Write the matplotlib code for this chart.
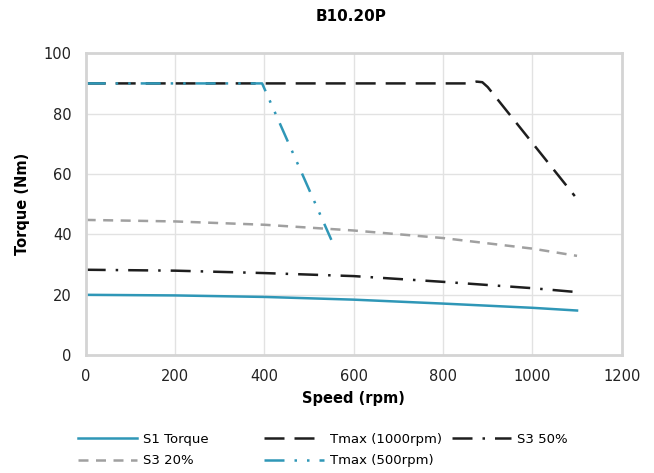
import matplotlib
matplotlib.use("Agg")
import matplotlib.pyplot as plt

# curve data
s1_speed = [0, 200, 400, 600, 800, 1000, 1100]
s1_torque = [20.0, 19.8, 19.3, 18.4, 17.1, 15.7, 14.8]

s3_50_speed = [0, 200, 400, 600, 800, 1000, 1100]
s3_50_torque = [28.3, 28.0, 27.2, 26.2, 24.3, 22.2, 20.9]

s3_20_speed = [0, 200, 400, 600, 800, 1000, 1100]
s3_20_torque = [44.8, 44.3, 43.2, 41.3, 38.8, 35.3, 32.9]

tmax1000_speed = [0, 860, 875, 888, 900, 1095]
tmax1000_torque = [90.0, 90.0, 90.6, 90.4, 88.8, 52.7]

tmax500_speed = [0, 395, 550]
tmax500_torque = [90.0, 90.0, 38.2]

blue = "#2f97b7"
grid_col = "#e2e2e2"
spine_col = "#d4d4d4"

plt.rcParams["font.family"] = "DejaVu Sans"

fig = plt.figure(figsize=(6.54, 4.73), dpi=100)
ax = fig.add_axes([0.131, 0.249, 0.8196, 0.6385])

l_s1, = ax.plot(s1_speed, s1_torque, color=blue, lw=1.8, label="S1 Torque")
l_t1000, = ax.plot(tmax1000_speed, tmax1000_torque, color="#1e1e1e", lw=1.8,
                   dashes=(8, 4), label="Tmax (1000rpm)")
l_s50, = ax.plot(s3_50_speed, s3_50_torque, color="#1e1e1e", lw=1.8,
                 dashes=(8, 4, 1, 4), label="S3 50%")
l_s20, = ax.plot(s3_20_speed, s3_20_torque, color="#a0a0a0", lw=1.8,
                 dashes=(4, 3), label="S3 20%")
l_t500, = ax.plot(tmax500_speed, tmax500_torque, color=blue, lw=1.8,
                  dashes=(8, 4, 1, 4, 1, 4), label="Tmax (500rpm)")

ax.set_xlim(0, 1200)
ax.set_ylim(0, 100)
ax.set_xticks(range(0, 1201, 200))
ax.set_yticks(range(0, 101, 20))
ax.grid(True, color=grid_col, lw=1)
ax.set_axisbelow(True)
for s in ax.spines.values():
    s.set_color(spine_col)
    s.set_linewidth(2)
ax.tick_params(length=0, labelsize=10.5, pad=10)
for t in ax.get_xticklabels() + ax.get_yticklabels():
    t.set_color("#222222")

ax.set_xlabel("Speed (rpm)", fontsize=10.5, fontweight="bold", labelpad=5)
ax.set_ylabel("Torque (Nm)", fontsize=10.5, fontweight="bold", labelpad=10)
fig.suptitle("B10.20P", x=0.537, y=0.982, fontsize=11, fontweight="bold")

# legend: three columns placed like the Excel legend
columns = [([l_s1, l_s20], 0.119), ([l_t1000, l_t500], 0.404), ([l_s50], 0.691)]
for hs, x in columns:
    fig.legend(hs, [h.get_label() for h in hs], frameon=False,
               loc="upper left", bbox_to_anchor=(x, 0.085),
               fontsize=9.5, handlelength=4.5, handletextpad=0.45,
               labelspacing=0.65, borderpad=0, borderaxespad=0)

fig.savefig("out.png", dpi=100)
